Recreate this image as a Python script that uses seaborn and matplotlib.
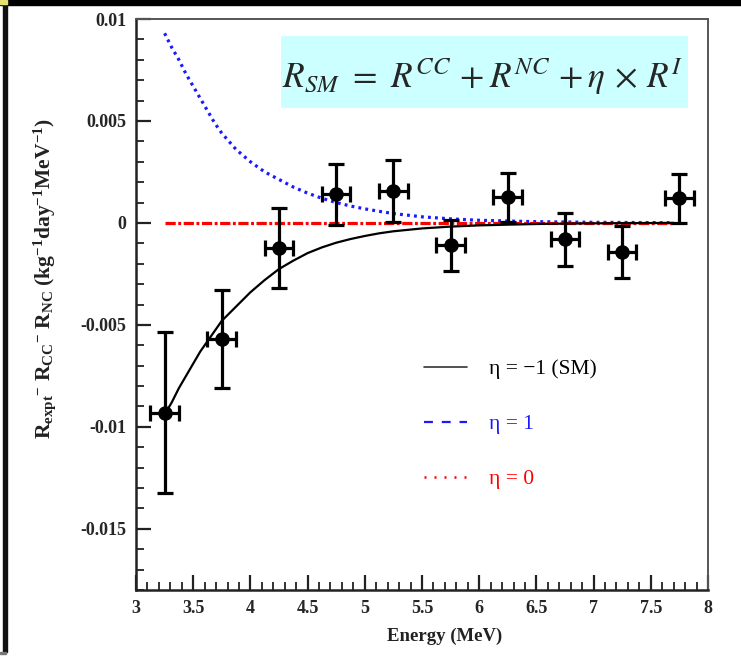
import numpy as np
import pandas as pd
import matplotlib
matplotlib.use("Agg")
import matplotlib.pyplot as plt
from matplotlib.lines import Line2D
from matplotlib.patches import Rectangle
from matplotlib.ticker import FixedLocator, MultipleLocator, FixedFormatter
import seaborn as sns

# ---------------- data ----------------
energy = [3.25, 3.75, 4.25, 4.75, 5.25, 5.75, 6.25, 6.75, 7.25, 7.75]
residual = [-0.0093, -0.0057, -0.00124, 0.0014, 0.00157, -0.0011, 0.00127, -0.00081, -0.00142, 0.0012]
residual_err = [0.00395, 0.0024, 0.00196, 0.0015, 0.0015, 0.00125, 0.0012, 0.0013, 0.00127, 0.0012]
energy_err = [0.125] * 10

curve_energy = [3.25, 3.3125, 3.375, 3.4375, 3.5, 3.5625, 3.625, 3.6875, 3.75, 3.875, 4.0, 4.125,
                4.25, 4.375, 4.5, 4.625, 4.75, 4.875, 5.0, 5.125, 5.25, 5.5, 5.75, 6.0, 6.5, 7.0, 7.7]
curve_sm = [-0.0094, -0.0088, -0.0081, -0.0075, -0.0069, -0.0063, -0.0058, -0.0053, -0.0048,
            -0.0041, -0.0034, -0.0028, -0.00226, -0.00185, -0.00148, -0.0012, -0.00097, -0.00079,
            -0.00064, -0.00051, -0.00041, -0.00027, -0.00018, -0.00012, -0.00005, -0.00002, 0.0]
curve_eta1 = [0.0093, 0.0086, 0.0080, 0.0073, 0.0067, 0.0061, 0.0055, 0.0049, 0.0044,
              0.0036, 0.0030, 0.0025, 0.00213, 0.00176, 0.00146, 0.00121, 0.0010, 0.00083,
              0.00069, 0.00057, 0.00046, 0.0003, 0.0002, 0.00013, 0.00006, 0.00003, 0.00001]
curve_eta0 = [0.0] * 27

xticks = [3, 3.5, 4, 4.5, 5, 5.5, 6, 6.5, 7, 7.5, 8]
xtick_labels = ["3", "3.5", "4", "4.5", "5", "5.5", "6", "6.5", "7", "7.5", "8"]
yticks = [-0.015, -0.01, -0.005, 0, 0.005, 0.01]
ytick_labels = ["-0.015", "-0.01", "-0.005", "0", "0.005", "0.01"]
legend_labels = ["η = \u22121 (SM)", "η = 1", "η = 0"]

# ---------------- style ----------------
sns.set_theme(style="white")
plt.rcParams["font.family"] = ["Liberation Serif", "DejaVu Serif"]
plt.rcParams["mathtext.fontset"] = "custom"
plt.rcParams["mathtext.rm"] = "Liberation Serif"
plt.rcParams["mathtext.it"] = "Liberation Serif:italic"
plt.rcParams["mathtext.bf"] = "Liberation Serif:bold"
plt.rcParams["axes.unicode_minus"] = False

W, H = 741, 656
fig = plt.figure(figsize=(W / 100, H / 100), dpi=100)
fig.patch.set_facecolor("white")

# screenshot frame decorations
fig.add_artist(Rectangle((0, 1 - 5 / H), 1, 5 / H, transform=fig.transFigure, color="black", zorder=10))
fig.add_artist(Rectangle((3 / W, 1 - 652 / H), 4 / W, 647 / H, transform=fig.transFigure, color="#111111", zorder=10))
fig.add_artist(Rectangle((0, 1 - 4 / H), 7 / W, 4 / H, transform=fig.transFigure, color="#e6e070", zorder=11))
fig.add_artist(Rectangle((0, 1 - 654 / H), 6 / W, 2 / H, transform=fig.transFigure, color="#777777", zorder=10))

ax = fig.add_axes([136 / W, 1 - 590 / H, 572 / W, 571 / H])

# equation box
ax.add_patch(Rectangle((0.2535, 0.844), 0.7115, 0.126, transform=ax.transAxes,
                       facecolor="#ccffff", edgecolor="none", zorder=1))
ax.text(0.606, 0.879, r"$R_{SM}\ =\ R^{CC}\,+R^{NC}\,+\eta\,\times\,R^{I}$", transform=ax.transAxes,
        ha="center", va="baseline", fontsize=25.5, math_fontfamily="stix", zorder=2)

df_curves = pd.DataFrame({"E": curve_energy, "sm": curve_sm, "eta1": curve_eta1, "eta0": curve_eta0})
sns.lineplot(data=df_curves, x="E", y="eta1", ax=ax, color="#1a1aff", lw=2.3,
             linestyle=(0, (0.9, 1.3)), zorder=3)
sns.lineplot(data=df_curves, x="E", y="eta0", ax=ax, color="#ff0000", lw=2.3,
             linestyle=(0, (3.2, 0.8, 0.9, 0.8)), zorder=3)
sns.lineplot(data=df_curves, x="E", y="sm", ax=ax, color="black", lw=1.6, zorder=4)

ax.errorbar(energy, residual, yerr=residual_err, xerr=energy_err, fmt="none",
            ecolor="black", elinewidth=2.3, capsize=6, capthick=2.3, zorder=5)
df_pts = pd.DataFrame({"E": energy, "r": residual})
sns.scatterplot(data=df_pts, x="E", y="r", ax=ax, color="black", s=110,
                edgecolor="black", linewidth=0, zorder=6)

# legend
handles = [Line2D([], [], color="#333333", lw=1.2),
           Line2D([], [], color="#1a1aff", lw=1.6, linestyle=(0, (4, 4))),
           Line2D([], [], color="#ff0000", lw=1.8, linestyle=(0, (0.8, 3.2)))]
leg = ax.legend(handles, legend_labels, loc="upper left", bbox_to_anchor=(0.47, 0.438),
                frameon=False, fontsize=15.5, handlelength=2.0, handletextpad=1.0,
                labelspacing=1.62, labelcolor=["black", "#1a1aff", "#ff0000"])

# axes
ax.set_xlim(3, 8)
ax.set_ylim(-0.018, 0.01)
ax.xaxis.set_major_locator(FixedLocator(xticks))
ax.xaxis.set_major_formatter(FixedFormatter(xtick_labels))
ax.xaxis.set_minor_locator(MultipleLocator(0.1))
ax.yaxis.set_major_locator(FixedLocator(yticks))
ax.yaxis.set_major_formatter(FixedFormatter(ytick_labels))
ax.yaxis.set_minor_locator(MultipleLocator(0.001))
ax.tick_params(which="both", direction="in", bottom=True, left=True, top=False, right=False,
               color="#222222")
ax.tick_params(which="major", length=11, width=1.6, labelsize=13, pad=7)
ax.tick_params(which="minor", length=6, width=1.3)
for lab in ax.get_xticklabels() + ax.get_yticklabels():
    lab.set_fontweight("bold")

for side in ["left", "bottom"]:
    ax.spines[side].set_color("#222222")
    ax.spines[side].set_linewidth(1.8)
for side in ["top", "right"]:
    ax.spines[side].set_color("#555555")
    ax.spines[side].set_linewidth(1.4)

ax.set_xlabel("Energy (MeV)", fontsize=13.5, fontweight="bold", color="#222222")
ax.xaxis.set_label_coords(0.54, -0.066)
ax.set_ylabel(r"$\mathbf{R_{expt}}^{\mathbf{-}}\ \mathbf{R_{CC}}^{\mathbf{-}}\ \mathbf{R_{NC}}\ \mathbf{(kg^{-1}day^{-1}MeV^{-1})}$",
              fontsize=15.5, color="#222222")
ax.yaxis.set_label_coords(-0.136, 0.545)

fig.savefig("out.png", dpi=100)
